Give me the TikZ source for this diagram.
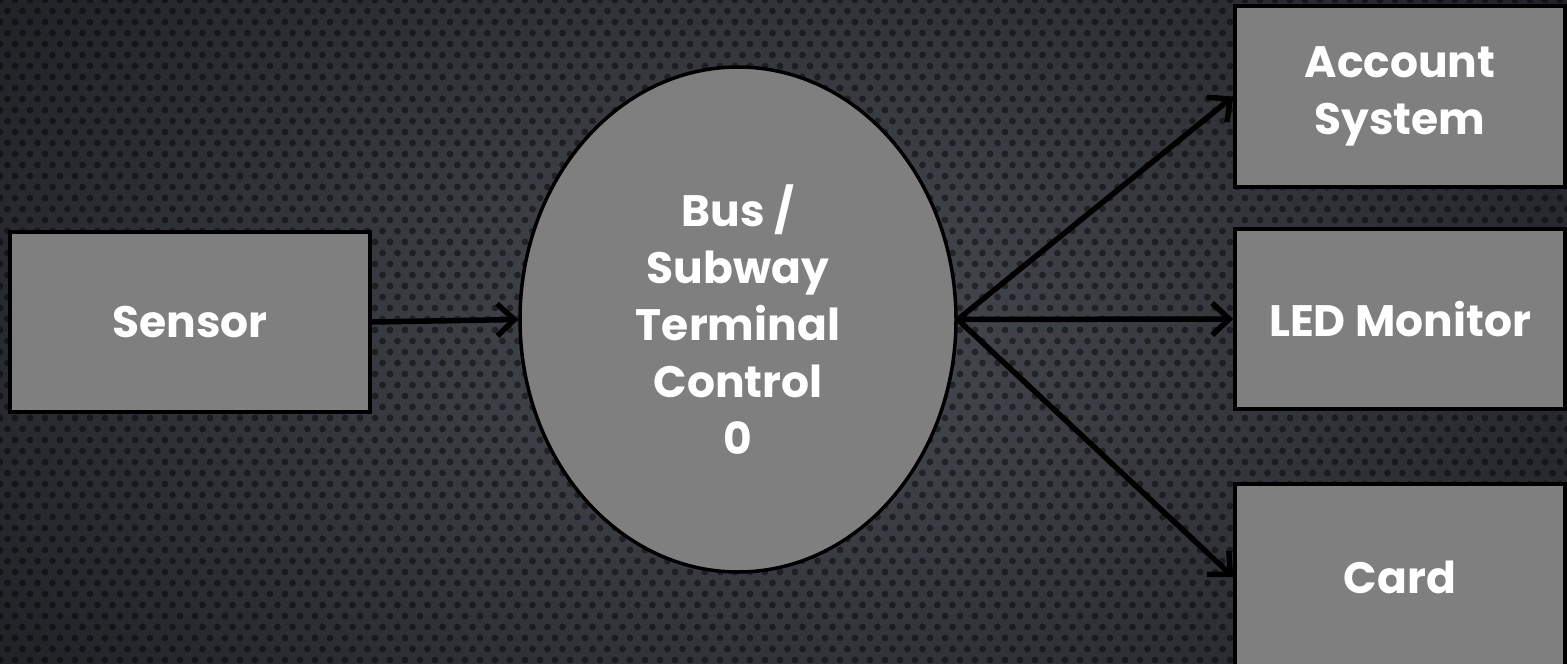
\documentclass[tikz,border=0pt]{standalone}
\usepackage{fontspec}
\setmainfont{Poppins}[BoldFont={* Bold}]
\usetikzlibrary{shapes.geometric,arrows.meta}
\definecolor{boxgray}{HTML}{7F7F7F}
\definecolor{bgin}{HTML}{484B52}
\definecolor{bgout}{HTML}{1F2125}
\tikzset{
  blk/.style={draw=black, line width=3.5pt, fill=boxgray, text=white,
    font=\fontsize{44}{57}\selectfont\bfseries, align=center, inner sep=0pt},
  conn/.style={line width=5.5pt, line cap=round, -{Straight Barb[length=17pt,width=32pt,line width=5.5pt]}},
  dotc/.style={fill=black, opacity=0.45}
}
\begin{document}
\begin{tikzpicture}[x=1pt,y=-1pt]
\useasboundingbox (0,0) rectangle (1567,664);
% background
\begin{scope}
\clip (0,0) rectangle (1567,664);
\shade[inner color=bgin, outer color=bgout] (-200,-250) rectangle (1767,914);
\foreach \j in {0,...,61}{
  \pgfmathsetmacro\yy{\j*11}
  \pgfmathsetmacro\off{mod(\j,2)*7.5}
  \foreach \i in {0,...,105}{
    \fill[dotc] (\i*15+\off,\yy) circle[radius=3.4];
  }
}
\end{scope}
% nodes
\node[blk, rectangle, minimum width=360, minimum height=180] (sensor) at (190,322) {Sensor};
\node[blk, ellipse, minimum width=436, minimum height=505] (term) at (738,319.5)
  {Bus /\\Subway\\Terminal\\Control\\0};
\node[blk, rectangle, minimum width=330, minimum height=181] (acct) at (1400,96.5) {Account\\System};
\node[blk, rectangle, minimum width=330, minimum height=180] (led) at (1400,319) {LED Monitor};
\node[blk, rectangle, minimum width=330, minimum height=186] (card) at (1400,577) {Card};
% connectors
\draw[conn] (sensor.east) -- (term.west);
\draw[conn] (term.east) -- (acct.west);
\draw[conn] (term.east) -- (led.west);
\draw[conn] (term.east) -- (card.west);
\end{tikzpicture}
\end{document}
